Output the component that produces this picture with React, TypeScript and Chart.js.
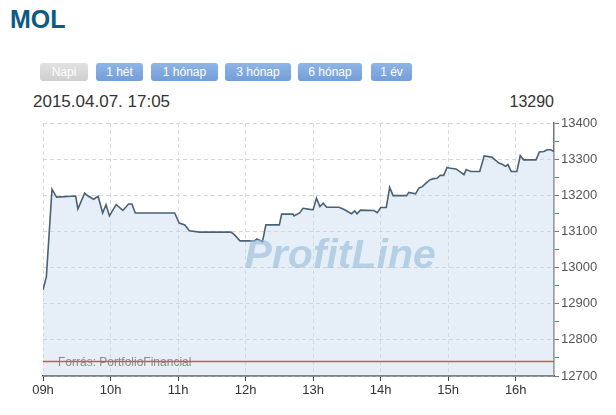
import { useEffect, useRef } from "react";
import Chart from "chart.js/auto";

// minutes after 09:00
const times = [0, 3, 8, 12, 29, 31, 37, 40, 45, 49, 53, 56, 59, 65, 71, 76, 79, 82, 117, 121, 126, 130, 139, 167, 170, 175, 188, 190, 192, 195, 198, 210, 212, 222, 223, 228, 231, 237, 240, 243, 246, 249, 252, 263, 268, 274, 277, 279, 282, 294, 297, 300, 305, 308, 311, 323, 325, 331, 334, 337, 340, 344, 347, 350, 353, 356, 359, 362, 367, 371, 374, 376, 380, 388, 392, 396, 399, 405, 408, 411, 413, 416, 421, 424, 427, 438, 441, 445, 448, 451, 454];
const prices = [12938, 12975, 13217, 13195, 13198, 13162, 13206, 13198, 13189, 13197, 13151, 13174, 13143, 13174, 13158, 13176, 13176, 13151, 13151, 13123, 13118, 13102, 13098, 13098, 13091, 13074, 13074, 13079, 13076, 13072, 13118, 13118, 13148, 13148, 13143, 13151, 13164, 13161, 13160, 13192, 13169, 13178, 13167, 13167, 13160, 13149, 13157, 13149, 13159, 13158, 13152, 13166, 13166, 13222, 13199, 13199, 13208, 13204, 13220, 13224, 13233, 13243, 13246, 13247, 13255, 13255, 13277, 13275, 13273, 13264, 13257, 13271, 13266, 13266, 13309, 13307, 13305, 13289, 13286, 13280, 13285, 13266, 13266, 13310, 13298, 13298, 13320, 13321, 13326, 13326, 13321];
const prevClose = 12740;
const buttons = ["Napi", "1 hét", "1 hónap", "3 hónap", "6 hónap", "1 év"];
const yMin = 12700;
const yMax = 13400;
const xMax = 454;

const FONT = "'Liberation Sans', Arial, sans-serif";

export default function App() {
  const canvasRef = useRef<HTMLCanvasElement | null>(null);
  const chartRef = useRef<Chart | null>(null);

  useEffect(() => {
    if (!canvasRef.current) return;
    const ctx = canvasRef.current.getContext("2d");
    if (!ctx) return;
    if (chartRef.current) chartRef.current.destroy();

    const overlay = {
      id: "overlay",
      afterDatasetDraw(chart: any, args: any) {
        if (args.index !== 1) return;
        const c = chart.ctx;
        const x = chart.scales.x;
        const y = chart.scales.y;
        c.save();
        // watermark
        c.font = `italic bold 41px ${FONT}`;
        c.fillStyle = "rgba(150,188,215,0.6)";
        c.textBaseline = "alphabetic";
        c.fillText("ProfitLine", x.getPixelForValue(179), y.getPixelForValue(12999));
        // source
        c.font = `12px ${FONT}`;
        c.fillStyle = "#8a8a8a";
        c.fillText("Forrás: PortfolioFinancial", chart.chartArea.left + 15, y.getPixelForValue(prevClose) + 4);
        c.restore();
      },
    };

    chartRef.current = new Chart(ctx, {
      type: "line",
      data: {
        datasets: [
          {
            data: [
              { x: 0, y: prevClose },
              { x: xMax, y: prevClose },
            ],
            borderColor: "#d9534f",
            borderWidth: 1.5,
            pointRadius: 0,
            fill: false,
          },
          {
            data: times.map((t, i) => ({ x: t, y: prices[i] })),
            borderColor: "#4b6273",
            borderWidth: 1.6,
            pointRadius: 0,
            tension: 0,
            fill: "start",
            backgroundColor: "rgba(195,218,238,0.42)",
          },
        ],
      },
      options: {
        responsive: true,
        maintainAspectRatio: false,
        animation: false,
        layout: { padding: { left: 43, top: 13, right: 0, bottom: 0 } },
        plugins: { legend: { display: false }, tooltip: { enabled: false } },
        scales: {
          x: {
            type: "linear",
            min: 0,
            max: xMax,
            afterFit: (s: any) => {
              s.height = 34;
            },
            afterBuildTicks: (s: any) => {
              s.ticks = [0, 60, 120, 180, 240, 300, 360, 420].map((v) => ({ value: v }));
            },
            ticks: {
              color: "#333",
              font: { family: FONT, size: 13 },
              padding: 2,
              maxRotation: 0,
              autoSkip: false,
              callback: (v: any) => String(9 + Number(v) / 60).padStart(2, "0") + "h",
            },
            grid: {
              color: "#dcdcdc",
              tickColor: "#444",
              tickLength: 5,
              drawTicks: true,
            },
            border: { color: "#444", width: 1.5, dash: [4, 3] },
          },
          y: {
            position: "right",
            min: yMin,
            max: yMax,
            afterFit: (s: any) => {
              s.width = 62;
            },
            ticks: {
              stepSize: 50,
              autoSkip: false,
              color: "#555",
              padding: 2,
              font: { family: FONT, size: 13 },
              callback: (v: any) => (Number(v) % 100 === 0 ? String(v) : ""),
            },
            grid: {
              color: (c: any) => (c.tick && c.tick.value % 100 === 0 ? "#d6d6d6" : "rgba(0,0,0,0)"),
              tickColor: (c: any) => (c.tick && c.tick.value % 100 === 0 ? "#777" : "#e05050"),
              tickLength: 5,
            },
            border: { color: "#777", width: 1.5, dash: [4, 3] },
          },
        },
      },
      plugins: [overlay],
    });

    return () => chartRef.current?.destroy();
  }, []);

  return (
    <div style={{ position: "absolute", left: 0, top: 0, width: 616, height: 415, background: "#fff", fontFamily: FONT }}>
      <div style={{ position: "absolute", left: 10, top: 5, fontSize: 25, fontWeight: "bold", color: "#0d5a85" }}>MOL</div>
      {buttons.map((b, i) => {
        const lefts = [40, 96, 151, 225, 298, 371];
        const widths = [48, 47, 67, 66, 64, 41];
        return (
          <div
            key={b}
            style={{
              position: "absolute",
              left: lefts[i],
              top: 63,
              width: widths[i],
              height: 18,
              lineHeight: "18px",
              textAlign: "center",
              fontSize: 12,
              color: "#fff",
              borderRadius: 3,
              background: i === 0 ? "linear-gradient(#e2e2e2,#cfcfcf)" : "linear-gradient(#8fb5e6,#739ed8)",
            }}
          >
            {b}
          </div>
        );
      })}
      <div style={{ position: "absolute", left: 33, top: 92, fontSize: 17, color: "#333" }}>2015.04.07. 17:05</div>
      <div style={{ position: "absolute", right: 62, top: 93, fontSize: 16, color: "#333" }}>13290</div>
      <div style={{ position: "absolute", left: 0, top: 110, width: 616, height: 300 }}>
        <canvas ref={canvasRef}></canvas>
      </div>
    </div>
  );
}
